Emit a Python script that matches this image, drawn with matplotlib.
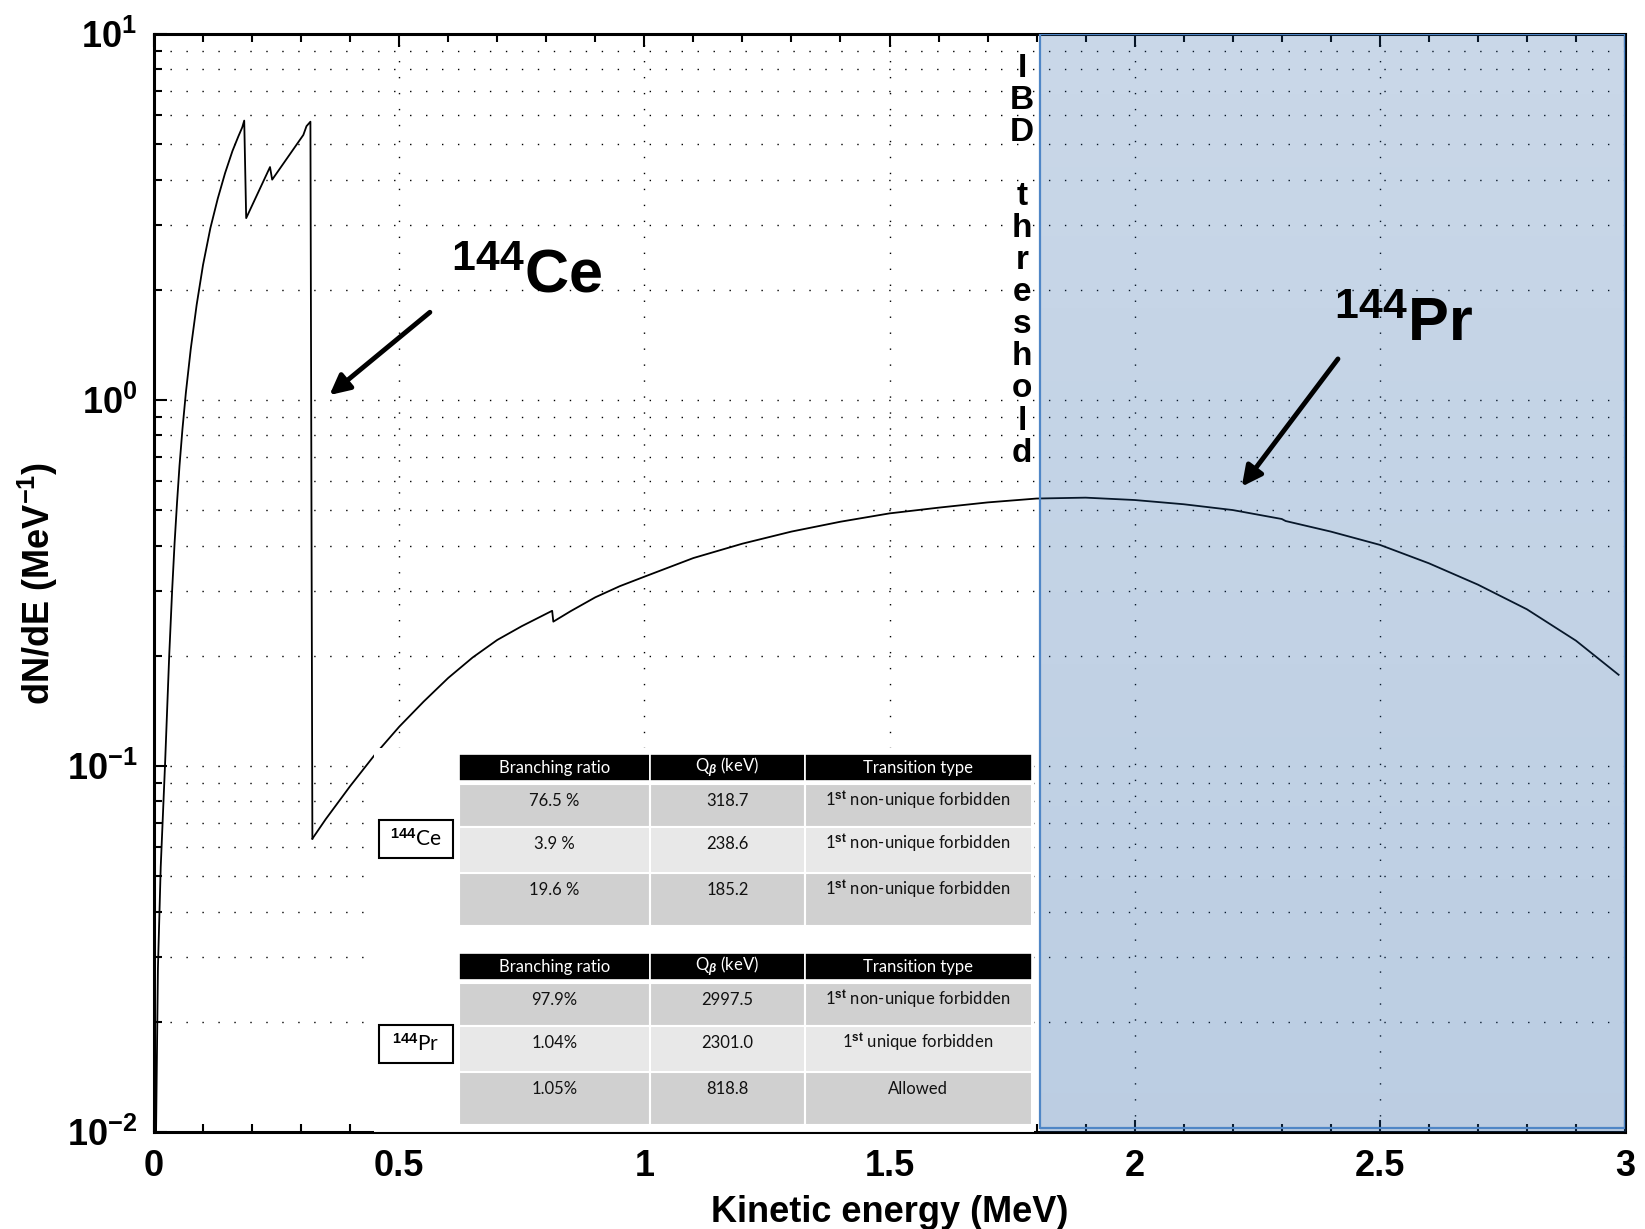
import numpy as np
import matplotlib
matplotlib.use('Agg')
import matplotlib.pyplot as plt
from matplotlib.patches import Rectangle
from matplotlib.ticker import FuncFormatter, MultipleLocator, LogLocator, NullFormatter

plt.rcParams['font.family'] = ['Liberation Sans', 'DejaVu Sans']
plt.rcParams['font.weight'] = 'bold'
plt.rcParams['mathtext.fontset'] = 'custom'
plt.rcParams['mathtext.rm'] = 'Liberation Sans'
plt.rcParams['mathtext.bf'] = 'Liberation Sans:bold'
plt.rcParams['mathtext.it'] = 'Liberation Sans:italic'

# 144Ce part of the spectrum (MeV, 1/MeV)
ce_energy = [0.004, 0.008, 0.0137, 0.0224, 0.031, 0.037, 0.042, 0.047, 0.052, 0.058,
             0.065, 0.075, 0.087, 0.100, 0.115, 0.130, 0.145, 0.160, 0.172, 0.180,
             0.184, 0.188, 0.2366, 0.241, 0.3046, 0.311, 0.319, 0.323]
ce_dnde = [0.0095, 0.028, 0.053, 0.1, 0.2, 0.302, 0.407, 0.525, 0.661, 0.832,
           1.047, 1.38, 1.82, 2.34, 2.95, 3.55, 4.17, 4.79, 5.25, 5.56,
           5.8, 3.14, 4.33, 4.0, 5.3, 5.6, 5.76, 0.0633]

# 144Pr part of the spectrum
pr_energy = [0.323, 0.35, 0.40, 0.45, 0.50, 0.55, 0.60, 0.65, 0.70, 0.75,
             0.80, 0.812, 0.8144, 0.85, 0.90, 0.95, 1.0, 1.1, 1.2, 1.3,
             1.4, 1.5, 1.6, 1.7, 1.8, 1.9, 2.0, 2.1, 2.2, 2.3,
             2.308, 2.4, 2.5, 2.6, 2.7, 2.8, 2.9, 2.987]
pr_dnde = [0.0633, 0.0715, 0.0881, 0.1072, 0.128, 0.150, 0.174, 0.198, 0.221, 0.241,
           0.2606, 0.2655, 0.248, 0.265, 0.289, 0.310, 0.329, 0.370, 0.405, 0.437,
           0.465, 0.490, 0.508, 0.525, 0.538, 0.541, 0.533, 0.519, 0.5004, 0.473,
           0.467, 0.437, 0.402, 0.358, 0.313, 0.268, 0.220, 0.1775]

ibd_threshold = 1.806
ibd_text = 'IBD threshold'

table_header = ['Branching ratio', r'Q$_\beta$ (keV)', 'Transition type']
ce_ratio = ['76.5 %', '3.9 %', '19.6 %']
ce_q = ['318.7', '238.6', '185.2']
ce_type = [r'1$^{\rm st}$ non-unique forbidden', r'1$^{\rm st}$ non-unique forbidden',
           r'1$^{\rm st}$ non-unique forbidden']
pr_ratio = ['97.9%', '1.04%', '1.05%']
pr_q = ['2997.5', '2301.0', '818.8']
pr_type = [r'1$^{\rm st}$ non-unique forbidden', r'1$^{\rm st}$ unique forbidden', 'Allowed']

W, H = 1645, 1229
fig = plt.figure(figsize=(W / 100, H / 100), dpi=100)
ax = fig.add_axes([154 / W, 1 - 1132 / H, (1625 - 154) / W, (1132 - 34) / H])

ax.plot(ce_energy, ce_dnde, color='black', lw=1.3)
ax.plot(pr_energy, pr_dnde, color='black', lw=1.3)

ax.set_yscale('log')
ax.set_xlim(0, 3)
ax.set_ylim(1e-2, 1e1)
ax.xaxis.set_major_locator(MultipleLocator(0.5))
ax.xaxis.set_minor_locator(MultipleLocator(0.1))
ax.xaxis.set_major_formatter(FuncFormatter(lambda v, p: f'{v:g}'))
ax.yaxis.set_major_locator(LogLocator(base=10, numticks=10))
ax.yaxis.set_minor_locator(LogLocator(base=10, subs=np.arange(2, 10), numticks=20))
ax.yaxis.set_minor_formatter(NullFormatter())
ax.yaxis.set_major_formatter(FuncFormatter(lambda v, p: r'$\mathbf{10^{%d}}$' % round(np.log10(v))))

dots = (0, (1, 10.5))
ax.grid(True, which='major', axis='x', linestyle=dots, color='black', lw=1.0)
ax.grid(True, which='both', axis='y', linestyle=dots, color='black', lw=1.0)
ax.tick_params(which='both', direction='in', top=True, right=True, width=1.5, labelsize=26, pad=12)
ax.tick_params(which='major', length=9)
ax.tick_params(which='minor', length=6)
for s in ax.spines.values():
    s.set_linewidth(2.2)

ax.set_xlabel('Kinetic energy (MeV)', fontsize=26, fontweight='bold', labelpad=8)
ax.set_ylabel(r'dN/dE (MeV$^{\mathbf{-1}}$)', fontsize=26, fontweight='bold', labelpad=5)

# IBD threshold text, one letter per line
for i, ch in enumerate(ibd_text):
    if ch != ' ':
        ax.text(0.590, 0.9690 - i * 0.02923, ch, transform=ax.transAxes, ha='center',
                va='center', fontsize=24, fontweight='bold')

# 144Ce label and arrow
ax.text(0.606, 1.97, r'$^{\mathbf{144}}$Ce', fontsize=44, fontweight='bold')
ax.annotate('', xy=(0.3535, 1.02), xytext=(0.567, 1.756),
            arrowprops=dict(arrowstyle='-|>', lw=3.5, color='black', mutation_scale=30))

# shaded region above the IBD threshold
tw = ax.twinx()
tw.set_ylim(0, 1)
tw.set_yticks([])
for s in tw.spines.values():
    s.set_visible(False)
grad = np.zeros((256, 1, 4))
grad[:, 0, 0] = 30 / 255
grad[:, 0, 1] = 90 / 255
grad[:, 0, 2] = 160 / 255
grad[:, 0, 3] = np.linspace(0.24, 0.30, 256)
tw.imshow(grad, extent=(ibd_threshold, 3.0, 0, 1), aspect='auto', origin='upper', zorder=1)
tw.add_patch(Rectangle((ibd_threshold, 0.004), 3.0 - ibd_threshold, 0.996, fill=False,
                       ec='#4f86c6', lw=1.6, zorder=2))
ax.set_xlim(0, 3)

# 144Pr label and arrow sit on top of the shading
tw.text(2.407, 1.45, r'$^{\mathbf{144}}$Pr', fontsize=44, fontweight='bold',
        transform=ax.transData, zorder=5)
tw.annotate('', xy=(2.215, 0.572), xytext=(2.418, 1.313), xycoords=ax.transData,
            textcoords=ax.transData, zorder=5,
            arrowprops=dict(arrowstyle='-|>', lw=3.5, color='black', mutation_scale=30))

# tables, drawn in pixel coordinates on an overlay
ov = fig.add_axes([0, 0, 1, 1])
ov.set_xlim(0, W)
ov.set_ylim(H, 0)
ov.axis('off')
ov.patch.set_alpha(0)

ov.add_patch(Rectangle((374, 748), 1034 - 374, 1133 - 748, fc='white', ec='none'))
ov.plot([374, 1034], [1132, 1132], color='black', lw=0.8)

col_edges = [458.5, 650, 804.6, 1031.5]
row_h = [43, 46, 53]
row_fill = ['#d0d0d0', '#e8e8e8', '#d0d0d0']
tfont = dict(family=['Lato', 'DejaVu Sans'], fontweight='normal', fontsize=12)


def draw_table(y_top, cols, label, label_y):
    for c in range(3):
        x0, x1 = col_edges[c], col_edges[c + 1]
        ov.add_patch(Rectangle((x0, y_top), x1 - x0, 27, fc='black', ec='white', lw=1.2))
        ov.text((x0 + x1) / 2, y_top + 14, table_header[c], color='white', ha='center',
                va='center', **tfont)
        y = y_top + 30
        for r in range(3):
            ov.add_patch(Rectangle((x0, y), x1 - x0, row_h[r], fc=row_fill[r], ec='white', lw=1.5))
            ov.text((x0 + x1) / 2, y + 17, cols[c][r], color='#111111', ha='center',
                    va='center', **tfont)
            y += row_h[r]
    ov.add_patch(Rectangle((379, label_y - 19), 74, 38, fc='white', ec='black', lw=1.5))
    ov.text(416, label_y, label, ha='center', va='center', family=['Lato', 'DejaVu Sans'],
            fontweight='normal', fontsize=15)


draw_table(754, [ce_ratio, ce_q, ce_type], r'$^{144}$Ce', 839)
draw_table(953, [pr_ratio, pr_q, pr_type], r'$^{144}$Pr', 1044)

fig.savefig('out.png', dpi=100)
